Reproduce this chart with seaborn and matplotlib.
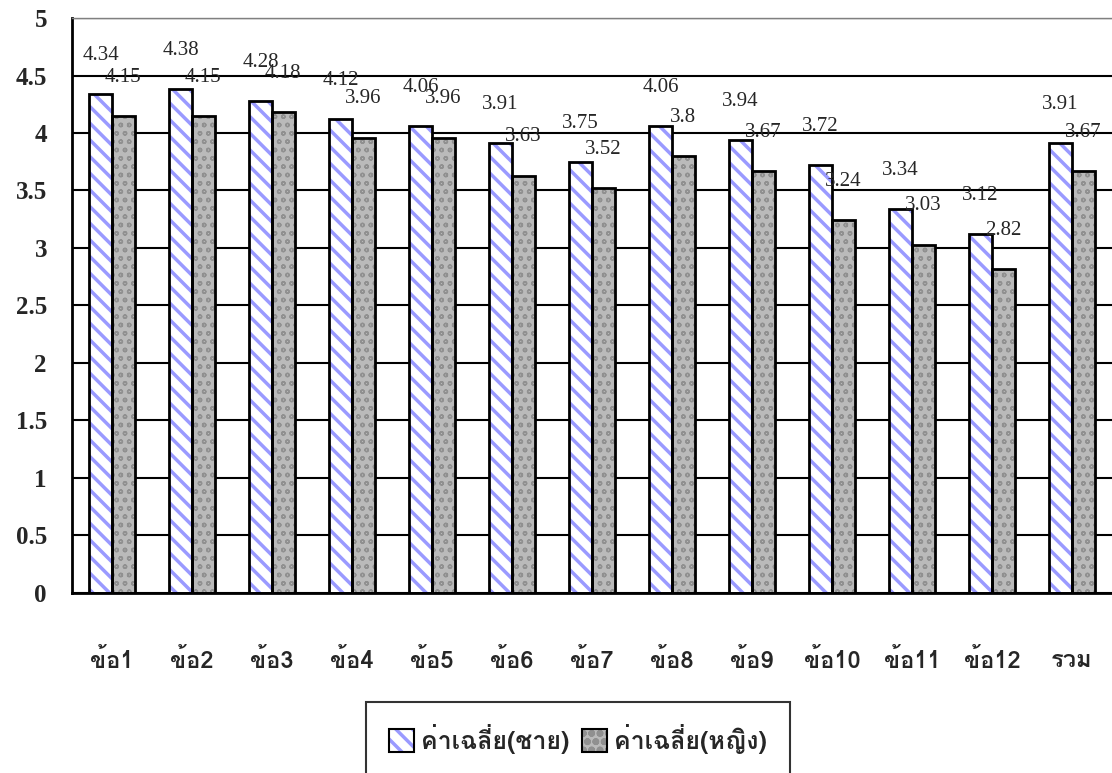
import numpy as np
import pandas as pd
import seaborn as sns
import matplotlib.pyplot as plt
from matplotlib import font_manager
from matplotlib.ft2font import FT2Font
from matplotlib.patches import Rectangle, Patch

# data
categories = ['ข้อ1', 'ข้อ2', 'ข้อ3', 'ข้อ4', 'ข้อ5', 'ข้อ6', 'ข้อ7',
              'ข้อ8', 'ข้อ9', 'ข้อ10', 'ข้อ11', 'ข้อ12', 'รวม']
male = [4.34, 4.38, 4.28, 4.12, 4.06, 3.91, 3.75, 4.06, 3.94, 3.72, 3.34, 3.12, 3.91]
female = [4.15, 4.15, 4.18, 3.96, 3.96, 3.63, 3.52, 3.8, 3.67, 3.24, 3.03, 2.82, 3.67]
series = ['ค่าเฉลี่ย(ชาย)', 'ค่าเฉลี่ย(หญิง)']
yticks = [0, 0.5, 1, 1.5, 2, 2.5, 3, 3.5, 4, 4.5, 5]


def find_thai_font():
    # first installed family that has Thai glyphs
    for f in font_manager.fontManager.ttflist:
        try:
            if 0x0E02 in FT2Font(f.fname).get_charmap():
                return f.name
        except Exception:
            pass
    return 'DejaVu Sans'


sns.set_style('white')
thai = find_thai_font()
plt.rcParams['font.family'] = ['Liberation Serif', thai, 'DejaVu Sans']
plt.rcParams['hatch.linewidth'] = 2.5

df = pd.DataFrame({
    'cat': categories * 2,
    'val': male + female,
    'series': [series[0]] * len(male) + [series[1]] * len(female),
})

fig = plt.figure(figsize=(11.12, 7.73), dpi=100)
ax = fig.add_axes([0.0647, 0.2329, 0.9353, 0.7438])

sns.barplot(data=df, x='cat', y='val', hue='series', order=categories,
            hue_order=series, width=0.57, gap=0, palette=['white', '#b3b3b3'],
            saturation=1, legend=False, errorbar=None, ax=ax)

male_style = dict(facecolor='white', hatch='\\\\', edgecolor='#9a9aff')
female_style = dict(facecolor='#bababa', hatch='oo', edgecolor='#909090')
hatch_lw = [2.5, 1.0]

for cont, style, hlw in zip(ax.containers, [male_style, female_style], hatch_lw):
    for p in cont.patches:
        p.set_facecolor(style['facecolor'])
        p.set_hatch(style['hatch'])
        p.set_edgecolor(style['edgecolor'])
        p.set_linewidth(0)
        if hasattr(p, 'set_hatch_linewidth'):
            p.set_hatch_linewidth(hlw)
        ax.add_patch(Rectangle((p.get_x(), p.get_y()), p.get_width(), p.get_height(),
                               fill=False, edgecolor='black', linewidth=2, zorder=3))
    ax.bar_label(cont, labels=['%g' % v for v in cont.datavalues], padding=21,
                 fontsize=15, family='Liberation Serif', zorder=4)

ax.set_ylim(0, 5)
ax.set_xlim(-0.5, len(categories) - 0.5)
ax.set_yticks(yticks, ['%g' % t for t in yticks])
ax.yaxis.grid(True, color='black', linewidth=1.5)
ax.get_ygridlines()[-1].set_color('#808080')
ax.get_ygridlines()[-1].set_linewidth(1)
ax.set_axisbelow(True)

ax.set_xticks(np.arange(len(categories) + 1) - 0.5, [''] * (len(categories) + 1))
ax.set_xticks(range(len(categories)), categories, minor=True)
ax.tick_params(axis='x', which='major', direction='out', length=9, width=1.5, color='black')
ax.tick_params(axis='x', which='minor', length=0, pad=40)
ax.tick_params(axis='y', direction='out', length=9, width=1.5, color='black', pad=9)
for lab in ax.get_xticklabels(minor=True):
    lab.set_fontsize(17)
    lab.set_fontweight('bold')
    lab.set_family([thai, 'Liberation Serif'])
for lab in ax.get_yticklabels():
    lab.set_fontsize(18)
    lab.set_fontweight('bold')

ax.set_xlabel('')
ax.set_ylabel('')
for s in ['left', 'bottom']:
    ax.spines[s].set_color('black')
    ax.spines[s].set_linewidth(2)
ax.spines['top'].set_color('#808080')
ax.spines['top'].set_linewidth(1)
ax.spines['right'].set_visible(False)

outline = dict(facecolor='none', edgecolor='black', linewidth=1.5)
handles = [
    (Patch(**male_style, linewidth=0), Patch(**outline)),
    (Patch(**female_style, linewidth=0), Patch(**outline)),
]
leg = fig.legend(handles, series, loc='upper left', bbox_to_anchor=(0.318, 0.1085),
                 ncol=2, frameon=True, fancybox=False, edgecolor='black',
                 handlelength=1.0, handleheight=1.0, handletextpad=0.3,
                 columnspacing=0.5, borderpad=0.9,
                 prop={'family': [thai, 'Liberation Serif'], 'weight': 'bold', 'size': 18})
leg.get_frame().set_linewidth(1.5)

fig.savefig('out.png', dpi=100)
